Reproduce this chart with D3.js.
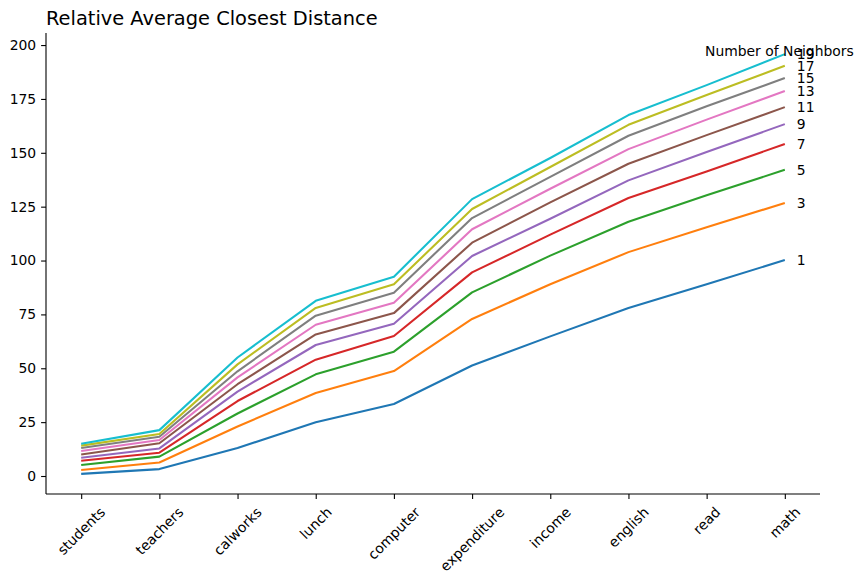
<!DOCTYPE html>
<html>
<head>
<meta charset="utf-8">
<script src="https://cdn.jsdelivr.net/npm/d3@7"></script>
<style>
  html, body { margin: 0; padding: 0; background: #fff; }
  svg { display: block; font-family: "DejaVu Sans", sans-serif; }
</style>
</head>
<body>
<svg id="chart" width="863" height="584"></svg>
<script>
const categories = ["students", "teachers", "calworks", "lunch", "computer", "expenditure", "income", "english", "read", "math"];
const neighbors = [1, 3, 5, 7, 9, 11, 13, 15, 17, 19];
const s1  = [1.0, 3.2, 13.0, 25.0, 33.4, 51.3, 64.8, 78.0, 89.0, 100.2];
const s3  = [2.8, 6.3, 23.0, 38.5, 48.7, 72.9, 89.0, 103.9, 115.5, 126.7];
const s5  = [5.1, 9.0, 29.0, 47.2, 57.7, 85.2, 102.3, 118.0, 130.3, 142.1];
const s7  = [7.1, 10.8, 34.8, 54.0, 65.0, 94.5, 112.0, 129.0, 141.3, 154.1];
const s9  = [8.5, 12.8, 39.2, 60.8, 70.7, 102.1, 119.4, 137.2, 150.4, 163.3];
const s11 = [10.0, 15.2, 42.6, 65.7, 75.6, 108.3, 127.0, 144.9, 158.2, 171.2];
const s13 = [11.6, 16.7, 45.8, 70.2, 80.4, 114.5, 133.3, 151.7, 165.4, 178.7];
const s15 = [13.0, 18.2, 48.6, 74.4, 85.1, 119.7, 138.8, 157.9, 171.6, 184.7];
const s17 = [14.1, 19.5, 51.8, 78.0, 89.0, 123.9, 143.4, 163.0, 176.8, 190.4];
const s19 = [15.0, 21.3, 55.0, 81.3, 92.5, 128.5, 147.6, 167.5, 181.4, 195.8];
const series = [s1, s3, s5, s7, s9, s11, s13, s15, s17, s19];
const yTicks = [0, 25, 50, 75, 100, 125, 150, 175, 200];
const colors = ["#1f77b4", "#ff7f0e", "#2ca02c", "#d62728", "#9467bd", "#8c564b", "#e377c2", "#7f7f7f", "#bcbd22", "#17becf"];
const title = "Relative Average Closest Distance";
const legendTitle = "Number of Neighbors";

const svg = d3.select("#chart");
const L = 46, R = 820, T = 33, B = 494;

const x = d3.scaleLinear().domain([-0.45, categories.length - 1 + 0.45]).range([L, R]);
const y = d3.scaleLinear().domain([-8.35, 205.6]).range([B, T]);

const fs = 13.9;

// axes
const yAxis = d3.axisLeft(y).tickValues(yTicks).tickSize(4.9).tickPadding(4.9).tickFormat(d3.format("d"));
const gy = svg.append("g").attr("transform", `translate(${L},0)`).call(yAxis);
gy.select(".domain").attr("d", `M0,${B}V${T}`).attr("stroke", "#000").attr("stroke-width", 1.1);
gy.selectAll(".tick line").attr("stroke", "#000").attr("stroke-width", 1.1);
gy.selectAll(".tick text").attr("font-size", fs).attr("font-family", "DejaVu Sans").attr("fill", "#000");

const xAxis = d3.axisBottom(x).tickValues(d3.range(categories.length)).tickSize(4.9).tickFormat(() => "");
const gx = svg.append("g").attr("transform", `translate(0,${B})`).call(xAxis);
gx.select(".domain").attr("d", `M${L},0H${R}`).attr("stroke", "#000").attr("stroke-width", 1.1);
gx.selectAll(".tick line").attr("stroke", "#000").attr("stroke-width", 1.1);

// rotated x labels, bbox centered at tick (matplotlib ha=center, rotation=45)
const topY = B + 4.9 + 4.9;
categories.forEach((c, i) => {
  const t = svg.append("text").text(c).attr("font-size", fs).attr("fill", "#000")
    .attr("text-anchor", "middle").attr("dominant-baseline", "central");
  const len = t.node().getComputedTextLength();
  const h = fs * 1.17;
  const bh = (len + h) * Math.SQRT1_2;
  const cx = x(i), cy = topY + bh / 2;
  t.attr("x", 0).attr("y", 0).attr("transform", `translate(${cx},${cy}) rotate(-45)`);
});

// lines
const line = d3.line().x((d, i) => x(i)).y(d => y(d));
series.forEach((s, k) => {
  svg.append("path").datum(s).attr("d", line).attr("fill", "none")
    .attr("stroke", colors[k]).attr("stroke-width", 2.08).attr("stroke-linejoin", "round");
});

// end labels
series.forEach((s, k) => {
  svg.append("text").attr("x", x(categories.length - 1) + 12).attr("y", y(s[s.length - 1]))
    .attr("dominant-baseline", "central").attr("font-size", fs).attr("fill", "#000")
    .text(neighbors[k]);
});

svg.append("text").attr("x", 705).attr("y", 56).attr("font-size", fs).attr("fill", "#000").text(legendTitle);

svg.append("text").attr("x", L).attr("y", 25).attr("font-size", 19.4).attr("fill", "#000").text(title);
</script>
</body>
</html>
